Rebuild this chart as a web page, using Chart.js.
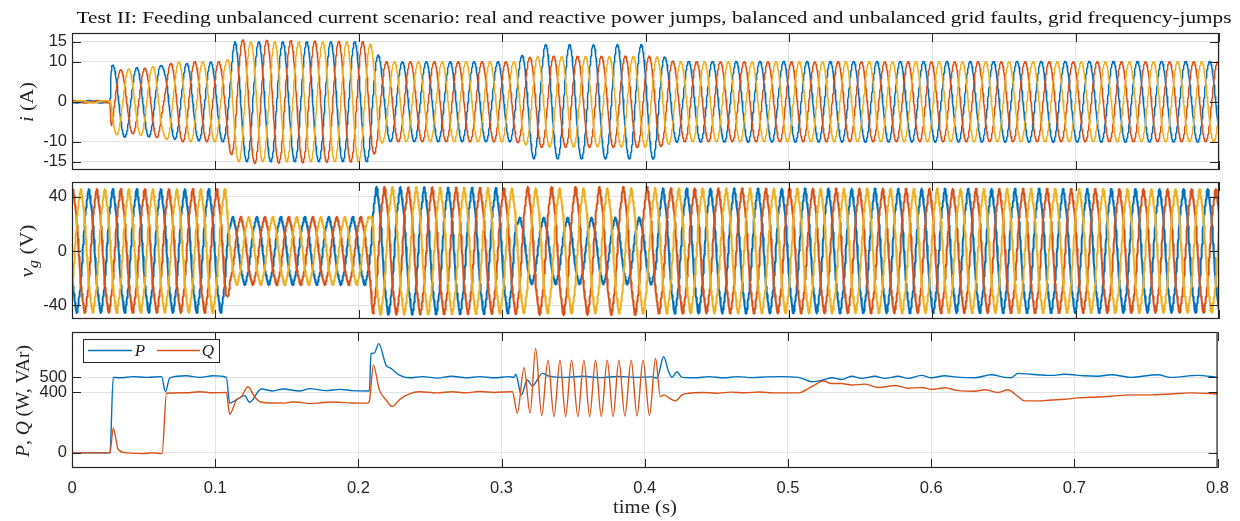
<!DOCTYPE html>
<html><head><meta charset="utf-8">
<script src="https://cdn.jsdelivr.net/npm/chart.js@4.4.1/dist/chart.umd.min.js"></script>
<style>
html,body{margin:0;padding:0;background:#fff;width:1240px;height:521px;overflow:hidden}
#wrap{position:relative;width:1240px;height:521px;background:#fff}
canvas{position:absolute;left:0;top:0}
</style></head><body>
<div id="wrap">
<canvas id="c1" width="1240" height="521"></canvas>
<canvas id="c2" width="1240" height="521"></canvas>
<canvas id="c3" width="1240" height="521"></canvas>
</div>
<script>
// ---------------- DATA ----------------
const titleText = 'Test II: Feeding unbalanced current scenario: real and reactive power jumps, balanced and unbalanced grid faults, grid frequency-jumps';
const timeTicks = [0, 0.1, 0.2, 0.3, 0.4, 0.5, 0.6, 0.7, 0.8];
const iTicks = [-15, -10, 0, 10, 15];
const vTicks = [-40, 0, 40];
const pqTicks = [0, 400, 500];

// measured positive-peak times of phase-a grid voltage (s) and their cycle count
const vPeakTime  = [0.0117, 0.1958, 0.2290, 0.3956, 0.4950, 0.6550, 0.8000];
const vPeakCycle = [0, 11, 13, 23, 29, 38.84, 47.47];
// current lag behind voltage (cycles)
const lagTime  = [0, 0.062, 0.066, 0.8];
const lagCycle = [0, 0, 0.085, 0.085];

// current peak amplitude envelopes (A): a = blue, b = orange, c = yellow
const iEnvTime = [0, 0.0265, 0.0275, 0.045, 0.060, 0.075, 0.100, 0.1075, 0.1135, 0.207, 0.217, 0.309, 0.322, 0.406, 0.414, 0.420, 0.8];
const iAmpA    = [0.3, 0.3, 9.2, 8.5, 9.0, 9.5, 10, 10, 15, 15, 10, 10, 14.3, 14.3, 11, 10.1, 10.1];
const iAmpB    = [0.3, 0.3, 8.0, 8.0, 9.0, 10, 10, 10, 15.5, 15, 10, 10, 11.4, 11.4, 11, 10, 10];
const iAmpC    = [0.3, 0.3, 8.2, 8.2, 9.0, 10, 10, 10, 15, 15, 10, 10, 11.3, 11.3, 11, 10, 10];

// grid voltage peak amplitude envelopes (V)
const vEnvTime = [0, 0.1075, 0.1100, 0.2075, 0.2100, 0.3085, 0.3110, 0.4060, 0.4090, 0.8];
const vAmpA    = [43.5, 43.5, 24, 24, 45, 44, 23.5, 23.5, 44, 43.5];
const vAmpB    = [43.5, 43.5, 24, 24, 45, 44, 45, 45, 44, 43.5];
const vAmpC    = [43.5, 43.5, 24, 24, 45, 44, 44, 44, 44, 43.5];
const vHarmOrder = [5, 7];
const vHarmRatio = [0.03, 0.02];

// active power P (W)
const pTime = [0,0.0265,0.0288,0.0334,0.0427,0.0520,0.0625,0.0653,0.0683,0.0799,0.0892,0.0985,0.1078,0.1101,0.1136,0.1206,0.1240,0.1322,0.1403,0.1473,0.1589,0.1659,0.1775,0.1868,0.1960,0.2077,0.2088,0.2111,0.2142,0.2193,0.2228,0.2286,0.2355,0.2450,0.2550,0.2650,0.2750,0.2850,0.2950,0.3050,0.3087,0.3099,0.3138,0.3180,0.3215,0.3285,0.3331,0.3450,0.3570,0.3690,0.3810,0.3930,0.4050,0.4086,0.4132,0.4167,0.4190,0.4225,0.4260,0.4350,0.4450,0.4550,0.4650,0.4750,0.4850,0.4950,0.5073,0.5166,0.5259,0.5305,0.5375,0.5445,0.5514,0.5608,0.5677,0.5770,0.5840,0.5933,0.6002,0.6095,0.6165,0.6305,0.6420,0.6513,0.6560,0.6606,0.6699,0.6838,0.6932,0.7071,0.7164,0.7257,0.7396,0.7582,0.7675,0.7861,0.8000];
const pValue = [0,0,500,497,505,500,505,405,497,510,500,510,500,329,345,379,335,423,410,423,410,425,412,420,412,410,658,660,723,581,559,515,497,505,495,507,497,505,497,505,500,520,384,482,443,526,508,500,507,498,506,500,503,495,636,537,500,537,500,497,505,497,505,498,503,505,500,471,486,497,486,507,493,507,493,507,493,513,497,510,503,497,517,500,497,526,520,513,520,510,507,517,500,517,500,513,500];
// reactive power Q (VAr)
const qTime = [0,0.0265,0.0288,0.0323,0.0381,0.0497,0.0560,0.0629,0.0660,0.0799,0.0892,0.0985,0.1078,0.1101,0.1148,0.1183,0.1229,0.1275,0.1322,0.1400,0.1473,0.1540,0.1589,0.1660,0.1728,0.1800,0.1868,0.1950,0.2065,0.2077,0.2105,0.2146,0.2193,0.2235,0.2286,0.2355,0.2425,0.2550,0.2650,0.2750,0.2850,0.2950,0.3076,0.3110,0.3157,0.3199,0.3238,0.3280,0.3324,0.3366,0.3408,0.3447,0.3489,0.3533,0.3575,0.3615,0.3656,0.3696,0.3738,0.3779,0.3819,0.3861,0.3905,0.3946,0.3988,0.4033,0.4075,0.4109,0.4132,0.4167,0.4214,0.4260,0.4307,0.4400,0.4500,0.4600,0.4700,0.4800,0.4900,0.5073,0.5166,0.5247,0.5305,0.5375,0.5445,0.5538,0.5631,0.5747,0.5840,0.5933,0.6002,0.6095,0.6188,0.6305,0.6374,0.6467,0.6537,0.6606,0.6653,0.6746,0.6838,0.6932,0.7024,0.7164,0.7257,0.7396,0.7535,0.7675,0.7814,0.8000];
const qValue = [0,0,164,22,0,-5,0,-5,395,398,405,398,400,256,350,372,438,372,335,330,329,337,335,326,330,337,335,330,329,345,581,417,351,307,351,390,405,397,405,398,406,400,405,263,563,263,691,247,614,241,614,241,614,241,614,241,614,241,614,241,614,244,614,244,614,247,625,372,384,365,344,384,395,400,395,402,398,403,397,397,438,476,459,459,449,455,433,446,428,433,420,431,412,408,418,400,418,372,344,344,350,355,364,370,375,384,384,390,397,390];

// ---------------- helpers ----------------
const BLUE = '#0072BD', ORANGE = '#D95319', YELLOW = '#EDB120';
const INK = '#262626', GRID = '#e3e3e3';
function interpClamp(t, xs, ys) {
  if (t <= xs[0]) return ys[0];
  for (let k = 1; k < xs.length; k++) {
    if (t <= xs[k]) { const f = (t - xs[k-1]) / (xs[k] - xs[k-1]); return ys[k-1] + f * (ys[k] - ys[k-1]); }
  }
  return ys[ys.length - 1];
}
function interpExt(t, xs, ys) {
  const n = xs.length;
  if (t <= xs[0]) return ys[0] + (t - xs[0]) * (ys[1] - ys[0]) / (xs[1] - xs[0]);
  if (t >= xs[n-1]) return ys[n-1] + (t - xs[n-1]) * (ys[n-1] - ys[n-2]) / (xs[n-1] - xs[n-2]);
  return interpClamp(t, xs, ys);
}
const step = 0.0002;
const tS = [];
for (let k = 0; k <= 4000; k++) tS.push(k * step);
function vCyc(t) { return interpExt(t, vPeakTime, vPeakCycle); }
function iCyc(t) { return vCyc(t) - interpClamp(t, lagTime, lagCycle); }
function currentSeries(amp, shift) {
  return tS.map(t => {
    const th = 2 * Math.PI * (iCyc(t) - shift / 3);
    return { x: t, y: interpClamp(t, iEnvTime, amp) * Math.cos(th) };
  });
}
function voltageSeries(amp, shift) {
  return tS.map(t => {
    const th = 2 * Math.PI * (vCyc(t) - shift / 3);
    let s = Math.cos(th);
    for (let h = 0; h < vHarmOrder.length; h++) s += vHarmRatio[h] * Math.cos(vHarmOrder[h] * th);
    return { x: t, y: interpClamp(t, vEnvTime, amp) * s };
  });
}
const pairs = (xs, ys) => xs.map((x, k) => ({ x, y: ys[k] }));

// ---------------- plugins ----------------
const frame = {
  id: 'frame',
  afterDraw(chart) {
    const { ctx, chartArea: a, scales: { x, y } } = chart;
    const tl = 9;
    ctx.save();
    ctx.strokeStyle = INK; ctx.lineWidth = 1;
    ctx.beginPath();
    x.ticks.forEach(t => {
      const px = Math.round(x.getPixelForValue(t.value)) + 0.5;
      ctx.moveTo(px, a.top); ctx.lineTo(px, a.top + tl);
      ctx.moveTo(px, a.bottom); ctx.lineTo(px, a.bottom - tl);
    });
    y.ticks.forEach(t => {
      const py = Math.round(y.getPixelForValue(t.value)) + 0.5;
      ctx.moveTo(a.left, py); ctx.lineTo(a.left + tl, py);
      ctx.moveTo(a.right, py); ctx.lineTo(a.right - tl, py);
    });
    ctx.stroke();
    ctx.lineWidth = 1.2;
    ctx.strokeRect(a.left + 0.5, a.top + 0.5, a.right - a.left - 1, a.bottom - a.top - 1);
    ctx.restore();
  }
};
function fontOf(p, size) {
  return (p.it ? 'italic ' : '') + (p.sub ? Math.round(size * 0.72) : size) + 'px "Liberation Serif", "DejaVu Serif", serif';
}
// draws mixed italic/upright text centred on (cx, cy); optional target width stretches it horizontally
function drawRich(ctx, parts, cx, cy, size, rotate, target) {
  ctx.save();
  ctx.translate(cx, cy);
  if (rotate) ctx.rotate(-Math.PI / 2);
  let w = 0;
  parts.forEach(p => { ctx.font = fontOf(p, size); w += ctx.measureText(p.t).width; });
  if (target) { ctx.scale(target / w, 1); }
  let x = -w / 2;
  ctx.fillStyle = INK;
  ctx.textBaseline = 'alphabetic';
  parts.forEach(p => {
    ctx.font = fontOf(p, size);
    ctx.fillText(p.t, x, size * 0.33 + (p.sub ? size * 0.25 : 0));
    x += ctx.measureText(p.t).width;
  });
  ctx.restore();
}
const texts = {
  id: 'texts',
  afterDraw(chart) {
    const ctx = chart.ctx;
    ctx.save();
    ctx.font = '17px "Liberation Serif", serif';
    const w = ctx.measureText(titleText).width;
    ctx.translate(654, 0);
    ctx.scale(1155 / w, 1);
    ctx.fillStyle = '#111';
    ctx.textAlign = 'center';
    ctx.textBaseline = 'alphabetic';
    ctx.fillText(titleText, 0, 23);
    ctx.restore();
    drawRich(ctx, [{ t: 'i', it: true }, { t: ' (A)' }], 27, 102, 19, true, 40);
    drawRich(ctx, [{ t: 'v', it: true }, { t: 'g', it: true, sub: true }, { t: ' (V)' }], 27, 251, 19, true, 53);
    drawRich(ctx, [{ t: 'P', it: true }, { t: ', ' }, { t: 'Q', it: true }, { t: ' (W, VAr)' }], 23, 401, 19, true, 112);
    drawRich(ctx, [{ t: 'time (s)' }], 645, 507, 19, false, 64);
    ctx.save();
    ctx.fillStyle = '#fff';
    ctx.fillRect(83, 339, 137, 23);
    ctx.strokeStyle = INK; ctx.lineWidth = 1;
    ctx.strokeRect(83.5, 339.5, 136, 23);
    ctx.lineWidth = 1.4;
    ctx.strokeStyle = BLUE; ctx.beginPath(); ctx.moveTo(88, 350.5); ctx.lineTo(132, 350.5); ctx.stroke();
    ctx.strokeStyle = ORANGE; ctx.beginPath(); ctx.moveTo(157, 350.5); ctx.lineTo(200, 350.5); ctx.stroke();
    ctx.restore();
    drawRich(ctx, [{ t: 'P', it: true }], 140, 350, 17, false);
    drawRich(ctx, [{ t: 'Q', it: true }], 208, 350, 17, false);
  }
};

// ---------------- charts ----------------
Chart.defaults.font.family = '"Liberation Sans", Arial, sans-serif';
Chart.defaults.font.size = 16.5;
Chart.defaults.color = INK;

function makeChart(id, datasets, yMin, yMax, yTicks, top, bottom, xH, extra) {
  return new Chart(document.getElementById(id), {
    type: 'line',
    data: { datasets },
    options: {
      responsive: false, animation: false, events: [],
      parsing: false, normalized: true,
      layout: { padding: { left: 12, right: 21, top: top, bottom: 521 - bottom - xH } },
      plugins: { legend: { display: false }, tooltip: { enabled: false } },
      elements: { point: { radius: 0 }, line: { borderJoinStyle: 'round' } },
      scales: {
        x: {
          type: 'linear', min: 0, max: 0.8,
          afterBuildTicks: s => { s.ticks = timeTicks.map(v => ({ value: v })); },
          afterFit: s => { s.height = xH; },
          border: { display: false },
          grid: { color: GRID, drawTicks: false, lineWidth: 1 },
          ticks: { display: xH > 0, padding: 11, color: INK, font: { size: 16.5 }, maxRotation: 0, autoSkip: false,
                   callback: v => String(+(+v).toFixed(1)) }
        },
        y: {
          type: 'linear', min: yMin, max: yMax,
          afterBuildTicks: s => { s.ticks = yTicks.map(v => ({ value: v })); },
          afterFit: s => { s.width = 60; },
          border: { display: false },
          grid: { color: GRID, drawTicks: false, lineWidth: 1 },
          ticks: { padding: 5, color: INK, font: { size: 16.5 }, autoSkip: false, callback: v => String(v) }
        }
      }
    },
    plugins: [frame].concat(extra || [])
  });
}
const ds = (data, color, order, w, extra) => Object.assign({ data, borderColor: color, borderWidth: w, order, tension: 0, pointRadius: 0, fill: false }, extra || {});

makeChart('c1', [
  ds(currentSeries(iAmpA, 0), BLUE, 2, 1.5),
  ds(currentSeries(iAmpB, 1), ORANGE, 1, 1.5),
  ds(currentSeries(iAmpC, 2), YELLOW, 0, 1.5)
], -17.05, 17.2, iTicks, 33, 170, 0);

makeChart('c2', [
  ds(voltageSeries(vAmpA, 0), BLUE, 2, 2),
  ds(voltageSeries(vAmpB, 1), ORANGE, 1, 2),
  ds(voltageSeries(vAmpC, 2), YELLOW, 0, 2)
], -50.1, 50.8, vTicks, 182, 319, 0);

makeChart('c3', [
  ds(pairs(pTime, pValue), BLUE, 1, 1.4, { cubicInterpolationMode: 'monotone' }),
  ds(pairs(qTime, qValue), ORANGE, 0, 1.4, { cubicInterpolationMode: 'monotone' })
], -100, 800, pqTicks, 332, 468, 30, [texts]);
</script>
</body></html>
